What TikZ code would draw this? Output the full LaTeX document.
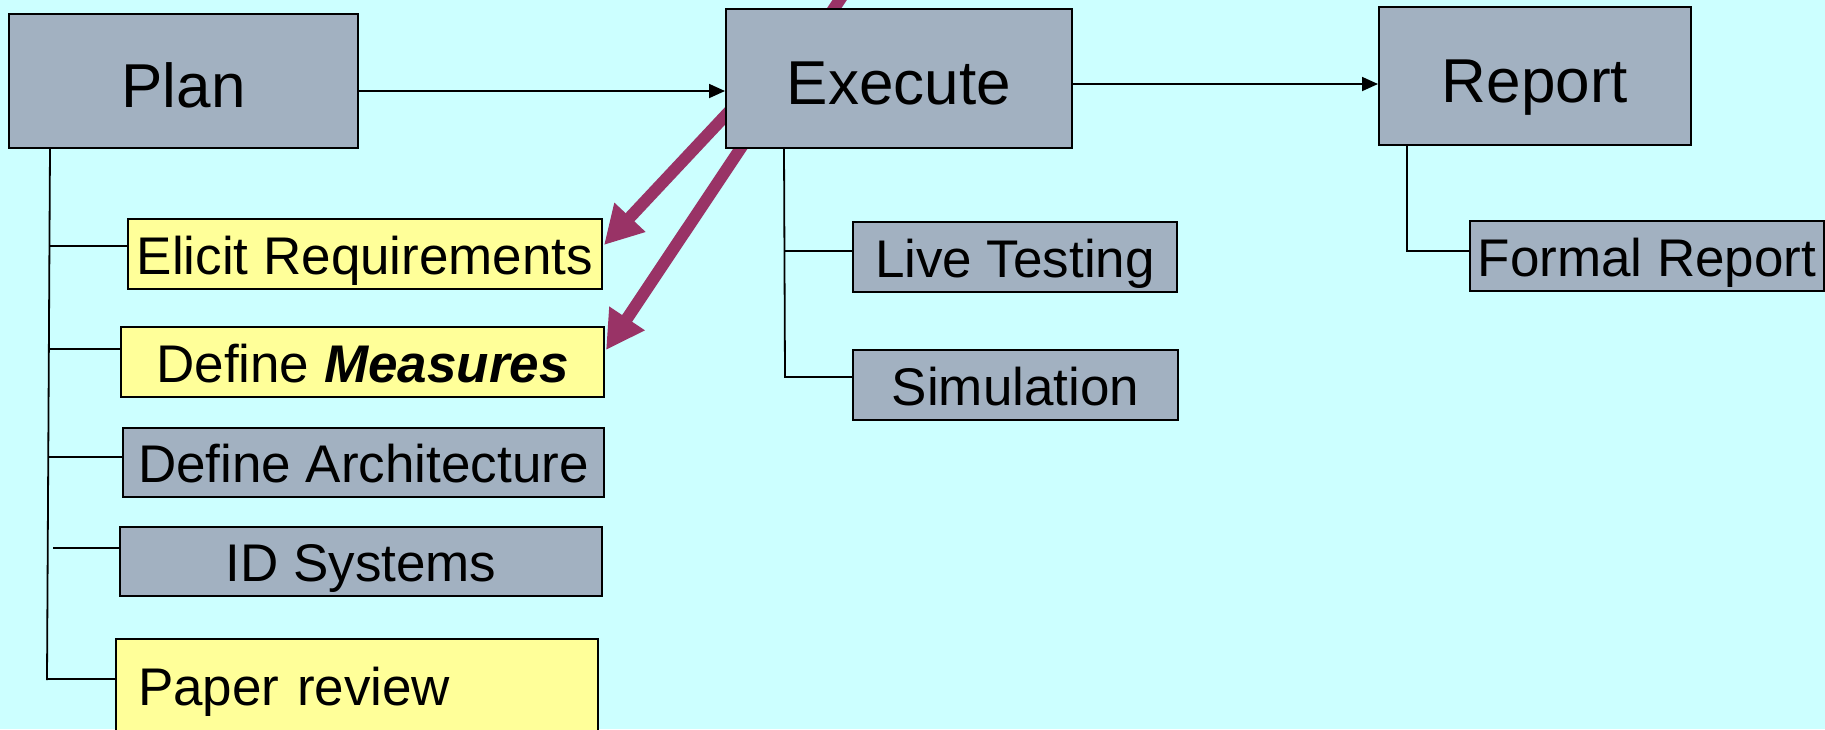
\documentclass[tikz,border=0pt]{standalone}
\usepackage{fontspec}
\setmainfont{Liberation Sans}
\usetikzlibrary{arrows.meta,calc}
\pgfdeclarelayer{bg}
\pgfdeclarelayer{under}
\pgfsetlayers{bg,under,main}
\definecolor{bgcyan}{HTML}{CCFFFF}
\definecolor{boxgray}{HTML}{A2B1C1}
\definecolor{boxyellow}{HTML}{FFFF99}
\definecolor{plum}{HTML}{993366}
\tikzset{
  basebox/.style={draw=black, line width=2pt, inner sep=0pt, fill=boxgray},
  mainbox/.style={basebox, font=\fontsize{62pt}{70pt}\selectfont, text height=52pt, text depth=0pt},
  subbox/.style={basebox, font=\fontsize{53pt}{60pt}\selectfont, text height=40pt, text depth=0pt},
  ylw/.style={fill=boxyellow},
  link/.style={line width=1.8pt},
  flow/.style={link, -{Triangle[length=16pt,width=14pt]}},
  bigarrow/.style={draw=plum, line width=12pt, -{Triangle[length=38pt,width=40pt]}},
}
\begin{document}
\begin{tikzpicture}[x=1pt,y=-1pt]
\useasboundingbox (0,0) rectangle (1825,729);
\begin{pgfonlayer}{bg}
  \fill[bgcyan] (0,0) rectangle (1825,729);
\end{pgfonlayer}

% main boxes
\node[mainbox, minimum width=349pt, minimum height=134pt] (Plan) at (183.5,81) {Plan};
\node[mainbox, minimum width=346pt, minimum height=139pt] (Execute) at (899,78.5) {Execute};
\node[mainbox, minimum width=312pt, minimum height=138pt] (Report) at (1535,76) {Report};

% plan children
\node[subbox, ylw, minimum width=474pt, minimum height=70pt] (Elicit) at (365,254) {Elicit Requirements};
\node[subbox, ylw, minimum width=483pt, minimum height=70pt] (Measures) at (362.5,362) {Define \textbf{\textit{Measures}}};
\node[subbox, minimum width=481pt, minimum height=69pt] (Arch) at (363.5,462.5) {Define Architecture};
\node[subbox, minimum width=482pt, minimum height=69pt] (IDS) at (361,561.5) {ID Systems};
\node[subbox, ylw, minimum width=482pt, minimum height=92pt, text width=438pt, align=left] (Paper) at (357,685) {Paper review};

% execute children
\node[subbox, minimum width=324pt, minimum height=70pt] (Live) at (1015,257) {Live Testing};
\node[subbox, minimum width=325pt, minimum height=70pt] (Sim) at (1015.5,385) {Simulation};

% report child
\node[subbox, minimum width=354pt, minimum height=70pt] (Formal) at (1647,256) {Formal Report};

% flow arrows
\draw[flow] ($(Plan.east)+(0,10)$) coordinate (pa) -- (pa -| Execute.west);
\draw[flow] ($(Execute.east)+(0,5.5)$) coordinate (ea) -- (ea -| Report.west);

% plan tree
\coordinate (pt) at ($(Plan.south west)+(42,0)$);
\coordinate (pb) at (47,680);
\draw[link] (pt) -- (pb);
\coordinate (b1) at (50.3,246);
\coordinate (b2) at (49.5,349);
\coordinate (b3) at (48.7,457);
\coordinate (b4) at (53,548);
\coordinate (b5) at (48,679);
\draw[link] (b1) -- (b1 -| Elicit.west);
\draw[link] (b2) -- (b2 -| Measures.west);
\draw[link] (b3) -- (b3 -| Arch.west);
\draw[link] (b4) -- (b4 -| IDS.west);
\draw[link] (b5) -- (b5 -| Paper.west);

% execute tree
\coordinate (et) at ($(Execute.south west)+(59,0)$);
\coordinate (eb) at (785,377);
\coordinate (e1) at (785,251);
\draw[link] (et) -- (eb) -- (eb -| Sim.west);
\draw[link] (e1) -- (e1 -| Live.west);

% report tree
\coordinate (rt) at (1407,144);
\coordinate (rb) at (1407,251);
\draw[link] (rt) -- (rb) -- (rb -| Formal.west);

% purple arrows (behind boxes)
\begin{pgfonlayer}{under}
  \coordinate (s1) at (770,68);
  \coordinate (s2) at (845,-8);
  \draw[bigarrow] (s1) -- ($(Elicit.east)+(1,-9)$);
  \draw[bigarrow] (s2) -- ($(Measures.east)+(1,-12)$);
\end{pgfonlayer}
\end{tikzpicture}
\end{document}
